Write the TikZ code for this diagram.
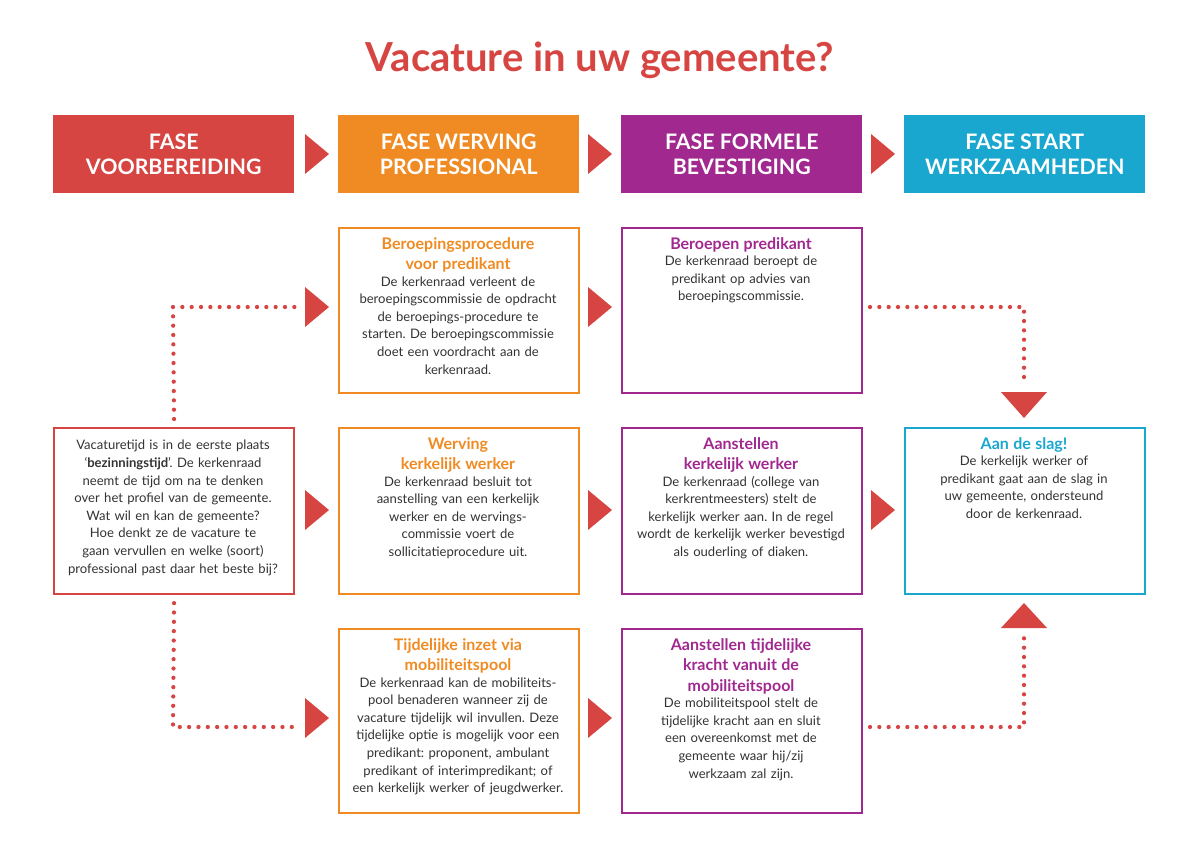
\documentclass[tikz,border=0pt]{standalone}
\usepackage{fontspec}
\setmainfont{Lato}
\frenchspacing
\definecolor{cred}{HTML}{D64541}
\definecolor{corange}{HTML}{EF8B22}
\definecolor{cpurple}{HTML}{A0288F}
\definecolor{ccyan}{HTML}{1AA7CF}
\definecolor{ctext}{HTML}{333333}
\begin{document}
\begin{tikzpicture}[x=0.75pt,y=-0.75pt,
 hdr/.style={anchor=north west,minimum width=241*0.75pt,minimum height=78*0.75pt,text=white,font=\fontsize{16}{19}\selectfont\bfseries,align=center,inner sep=0pt},
 box/.style={anchor=north west,draw=#1,line width=1.6pt,minimum width=240*0.75pt,inner sep=0pt},
 body/.style={anchor=north,text width=178pt,align=center,font=\fontsize{9.8}{13.2}\selectfont,text=ctext,inner sep=0pt},
 dots/.style={cred,line width=3.2pt,line cap=round,dash pattern=on 0pt off 7pt}]
\newcommand\ttl[2]{{\fontsize{12}{15.5}\selectfont\bfseries\color{#1}#2\\[-1pt]}}
\useasboundingbox (0,0) rectangle (1200,843);
\node[font=\fontsize{30}{32}\selectfont\bfseries,text=cred] (title) at (600,60) {Vacature in uw gemeente?};
\node[hdr,fill=cred] (h1) at (53,115) {FASE\\VOORBEREIDING};
\node[hdr,fill=corange] (h2) at (338,115) {FASE WERVING\\PROFESSIONAL};
\node[hdr,fill=cpurple] (h3) at (621,115) {FASE FORMELE\\BEVESTIGING};
\node[hdr,fill=ccyan] (h4) at (904,115) {FASE START\\WERKZAAMHEDEN};
% boxes
\node[box=corange,minimum height=165*0.75pt] (b12) at (338,227) {};
\node[box=cpurple,minimum height=165*0.75pt] (b13) at (621,227) {};
\node[box=cred,minimum height=166*0.75pt] (b21) at (53,427) {};
\node[box=corange,minimum height=166*0.75pt] (b22) at (338,427) {};
\node[box=cpurple,minimum height=166*0.75pt] (b23) at (621,427) {};
\node[box=ccyan,minimum height=166*0.75pt] (b24) at (904,427) {};
\node[box=corange,minimum height=184*0.75pt] (b32) at (338,628) {};
\node[box=cpurple,minimum height=184*0.75pt] (b33) at (621,628) {};
% texts
\node[body] (t12) at (458,237) {\ttl{corange}{Beroepingsprocedure\\voor predikant}De kerkenraad verleent de\\beroepingscommissie de opdracht\\de beroepings-procedure te\\starten. De beroepingscommissie\\doet een voordracht aan de\\kerkenraad.};
\node[body] (t13) at (741,237) {\ttl{cpurple}{Beroepen predikant}De kerkenraad beroept de\\predikant op advies van\\beroepingscommissie.};
\node[body] (t21) at (173,440) {Vacaturetijd is in de eerste plaats\\‘\textbf{bezinningstijd}’. De kerkenraad\\neemt de tijd om na te denken\\over het profiel van de gemeente.\\Wat wil en kan de gemeente?\\Hoe denkt ze de vacature te\\gaan vervullen en welke (soort)\\professional past daar het beste bij?};
\node[body] (t22) at (458,437) {\ttl{corange}{Werving\\kerkelijk werker}De kerkenraad besluit tot\\aanstelling van een kerkelijk\\werker en de wervings-\\commissie voert de\\sollicitatieprocedure uit.};
\node[body] (t23) at (741,437) {\ttl{cpurple}{Aanstellen\\kerkelijk werker}De kerkenraad (college van\\kerkrentmeesters) stelt de\\kerkelijk werker aan. In de regel\\wordt de kerkelijk werker bevestigd\\als ouderling of diaken.};
\node[body] (t24) at (1024,437) {\ttl{ccyan}{Aan de slag!}De kerkelijk werker of\\predikant gaat aan de slag in\\uw gemeente, ondersteund\\door de kerkenraad.};
\node[body] (t32) at (458,638) {\ttl{corange}{Tijdelijke inzet via\\mobiliteitspool}De kerkenraad kan de mobiliteits-\\pool benaderen wanneer zij de\\vacature tijdelijk wil invullen. Deze\\tijdelijke optie is mogelijk voor een\\predikant: proponent, ambulant\\predikant of interimpredikant; of\\een kerkelijk werker of jeugdwerker.};
\node[body] (t33) at (741,638) {\ttl{cpurple}{Aanstellen tijdelijke\\kracht vanuit de\\mobiliteitspool}De mobiliteitspool stelt de\\tijdelijke kracht aan en sluit\\een overeenkomst met de\\gemeente waar hij/zij\\werkzaam zal zijn.};
% triangles
\foreach \x/\y in {305/154,588/154,871/154,305/307,588/307,305/510,588/510,871/510,305/718,588/718}
  \fill[cred] (\x,\y-20) -- (\x+24,\y) -- (\x,\y+20) -- cycle;
\fill[cred] (1001,392) -- (1047,392) -- (1024,418) -- cycle;
\fill[cred] (1001,628) -- (1047,628) -- (1024,603) -- cycle;
% dotted connectors
\coordinate (c1) at (173,307); \coordinate (c1e) at (297,307);
\coordinate (c2) at (173,727); \coordinate (c2e) at (297,727);
\draw[dots] (b21.north) ++(0,-8) -- (c1) -- (c1e);
\draw[dots] (b21.south) ++(0,8) -- (c2) -- (c2e);
\coordinate (c3s) at (870,307); \coordinate (c3) at (1024,307); \coordinate (c3e) at (1024,385);
\draw[dots] (c3s) -- (c3) -- (c3e);
\coordinate (c4s) at (870,727); \coordinate (c4) at (1024,727); \coordinate (c4e) at (1024,636);
\draw[dots] (c4s) -- (c4) -- (c4e);
\end{tikzpicture}
\end{document}
